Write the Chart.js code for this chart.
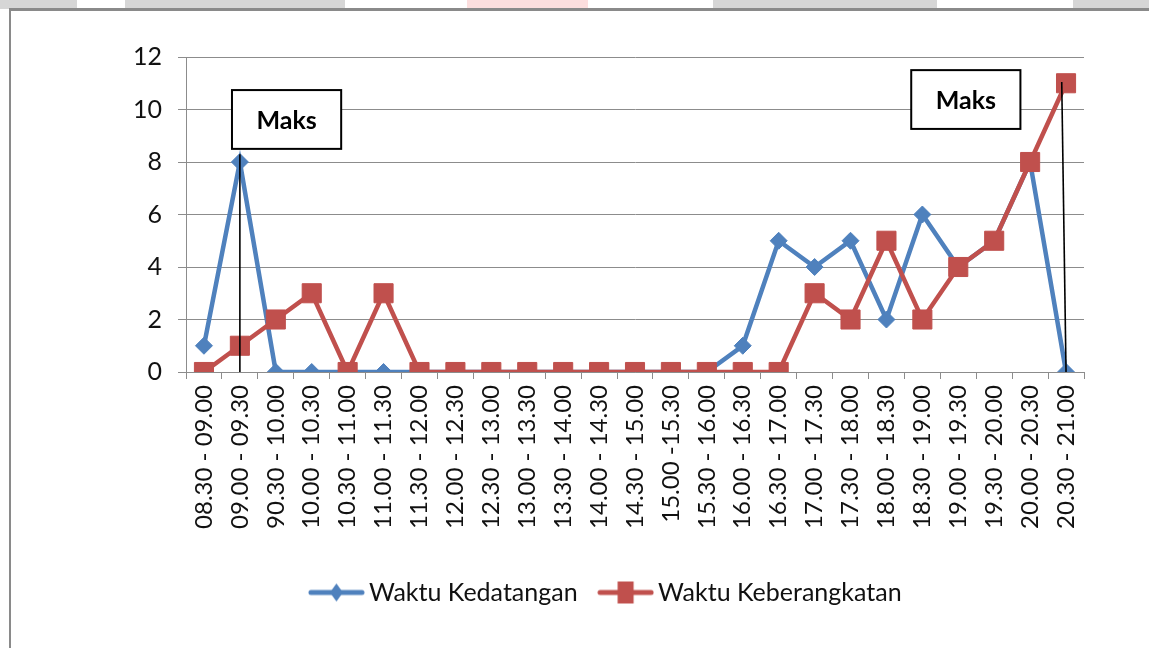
<!DOCTYPE html>
<html>
<head>
<meta charset="utf-8">
<title>Waktu Kedatangan dan Keberangkatan</title>
<script src="https://cdn.jsdelivr.net/npm/chart.js@4.4.1/dist/chart.umd.min.js"></script>
<style>
  html, body { margin: 0; padding: 0; background: #fff; }
  #wrap { position: relative; width: 1149px; height: 648px; overflow: hidden; }
  #band {
    position: absolute; left: 0; top: 0; width: 1149px; height: 9px;
    background: linear-gradient(to right,
      #d6d6d6 0, #d6d6d6 77px, #fff 77px, #fff 125px,
      #d6d6d6 125px, #d6d6d6 345px, #fff 345px, #fff 467px,
      #fcdede 467px, #fcdede 588px, #fff 588px, #fff 713px,
      #d6d6d6 713px, #d6d6d6 937px, #fff 937px, #fff 1073px,
      #d6d6d6 1073px, #d6d6d6 1149px);
  }
  #frame {
    position: absolute; left: 9px; top: 8px; width: 1200px; height: 700px;
    border-left: 2px solid #8a8a8a; border-top: 3px solid #8a8a8a;
    background: #fff;
  }
  canvas { position: absolute; left: 0; top: 0; }
</style>
</head>
<body>
<div id="wrap">
  <div id="band"></div>
  <div id="frame"></div>
  <canvas id="myChart" width="1149" height="648"></canvas>
</div>
<script>
// Time slots on the x axis
const timeSlots = [
  "08.30 - 09.00", "09.00 - 09.30", "90.30 - 10.00", "10.00 - 10.30",
  "10.30 - 11.00", "11.00 - 11.30", "11.30 - 12.00", "12.00 - 12.30",
  "12.30 - 13.00", "13.00 - 13.30", "13.30 - 14.00", "14.00 - 14.30",
  "14.30 - 15.00", "15.00 -15.30", "15.30 - 16.00", "16.00 - 16.30",
  "16.30 - 17.00", "17.00 - 17.30", "17.30 - 18.00", "18.00 - 18.30",
  "18.30 - 19.00", "19.00 - 19.30", "19.30 - 20.00", "20.00 - 20.30",
  "20.30 - 21.00"
];

// Series values
const kedatangan = [1, 8, 0, 0, 0, 0, 0, 0, 0, 0, 0, 0, 0, 0, 0, 1, 5, 4, 5, 2, 6, 4, 5, 8, 0];
const keberangkatan = [0, 1, 2, 3, 0, 3, 0, 0, 0, 0, 0, 0, 0, 0, 0, 0, 0, 3, 2, 5, 2, 4, 5, 8, 11];

// Y axis ticks
const yMin = 0;
const yMax = 12;
const yStep = 2;

// "Maks" notes
const maksLabel = "Maks";

const blue = "#4f81bd";
const red = "#c0504d";
const gridColor = "#8c8c8c";
const fontFamily = "Lato, 'Open Sans', sans-serif";

// Legend marker: line with the series marker on it
// (image is wider than the legend box so the text sits close to the line)
function legendMarker(color, shape) {
  const c = document.createElement("canvas");
  c.width = 57;
  c.height = 24;
  const g = c.getContext("2d");
  g.strokeStyle = color;
  g.fillStyle = color;
  g.lineWidth = 5;
  g.lineCap = "round";
  g.beginPath();
  g.moveTo(3, 12);
  g.lineTo(54, 12);
  g.stroke();
  if (shape === "diamond") {
    g.beginPath();
    g.moveTo(28.5, 3);
    g.lineTo(35, 12);
    g.lineTo(28.5, 21);
    g.lineTo(22, 12);
    g.closePath();
    g.fill();
  } else {
    g.fillRect(20.5, 1, 16, 22);
  }
  return c;
}

const legendMarkers = [legendMarker(blue, "diamond"), legendMarker(red, "square")];

// Annotation boxes and pointer lines, placed on the chart's own scales
const maksNotes = [
  { box: [0.78, 3.82, 10.74, 8.5], line: [1, 8.3, 1, 0] },
  { box: [19.69, 22.73, 11.5, 9.26], line: [23.88, 11.05, 24, 0] }
];

const maksPlugin = {
  id: "maks",
  afterDatasetsDraw(chart) {
    const c = chart.ctx;
    const xs = chart.scales.x;
    const ys = chart.scales.y;
    c.save();
    maksNotes.forEach((note) => {
      const [lx0, ly0, lx1, ly1] = note.line;
      c.strokeStyle = "#000";
      c.lineWidth = 1.6;
      c.beginPath();
      c.moveTo(xs.getPixelForValue(lx0), ys.getPixelForValue(ly0));
      c.lineTo(xs.getPixelForValue(lx1), ys.getPixelForValue(ly1));
      c.stroke();

      const [bx0, bx1, byTop, byBottom] = note.box;
      const left = xs.getPixelForValue(bx0);
      const right = xs.getPixelForValue(bx1);
      const top = ys.getPixelForValue(byTop);
      const bottom = ys.getPixelForValue(byBottom);
      c.fillStyle = "#fff";
      c.fillRect(left, top, right - left, bottom - top);
      c.lineWidth = 2;
      c.strokeRect(left, top, right - left, bottom - top);
      c.fillStyle = "#000";
      c.font = "bold 25px " + fontFamily;
      c.textAlign = "center";
      c.textBaseline = "middle";
      c.fillText(maksLabel, (left + right) / 2, (top + bottom) / 2 + 1);
    });
    c.restore();
  }
};

const ctx = document.getElementById("myChart");

const data = {
  labels: timeSlots,
  datasets: [
    {
      label: "Waktu Kedatangan",
      data: kedatangan,
      borderColor: blue,
      backgroundColor: blue,
      borderWidth: 4.5,
      pointStyle: "rectRot",
      pointRadius: 8.5,
      pointBorderWidth: 1,
      pointBackgroundColor: blue,
      pointBorderColor: blue,
      tension: 0,
      order: 2
    },
    {
      label: "Waktu Keberangkatan",
      data: keberangkatan,
      borderColor: red,
      backgroundColor: red,
      borderWidth: 4.5,
      pointStyle: "rect",
      pointRadius: 13.5,
      pointBorderWidth: 1,
      pointBackgroundColor: red,
      pointBorderColor: red,
      tension: 0,
      order: 1
    }
  ]
};

const config = {
  type: "line",
  data: data,
  options: {
    responsive: false,
    devicePixelRatio: 1,
    animation: false,
    layout: {
      padding: { left: 134, right: 65, top: 57, bottom: 33 }
    },
    plugins: {
      title: { display: false },
      tooltip: { enabled: false },
      legend: {
        display: true,
        position: "bottom",
        labels: {
          usePointStyle: true,
          pointStyleWidth: 40,
          padding: 28,
          color: "#111",
          font: { family: fontFamily, size: 25 },
          sort: (a, b) => a.datasetIndex - b.datasetIndex,
          generateLabels(chart) {
            const items = Chart.defaults.plugins.legend.labels.generateLabels(chart);
            items.forEach((item) => {
              item.pointStyle = legendMarkers[item.datasetIndex];
            });
            return items;
          }
        }
      }
    },
    scales: {
      x: {
        offset: true,
        grid: {
          offset: true,
          drawOnChartArea: false,
          drawTicks: true,
          tickLength: 7,
          color: gridColor
        },
        border: { display: true, color: gridColor, width: 1 },
        ticks: {
          autoSkip: false,
          minRotation: 90,
          maxRotation: 90,
          padding: 6,
          color: "#111",
          font: { family: fontFamily, size: 24 }
        },
        afterFit(scale) {
          scale.height = 180;
        }
      },
      y: {
        min: yMin,
        max: yMax,
        ticks: {
          stepSize: yStep,
          padding: 16,
          color: "#111",
          font: { family: fontFamily, size: 25 }
        },
        grid: {
          color: gridColor,
          lineWidth: 1,
          drawTicks: true,
          tickLength: 8
        },
        border: { display: true, color: gridColor, width: 1 },
        afterFit(scale) {
          scale.width = 52;
        }
      }
    }
  },
  plugins: [maksPlugin]
};

const myChart = new Chart(ctx, config);
</script>
</body>
</html>
